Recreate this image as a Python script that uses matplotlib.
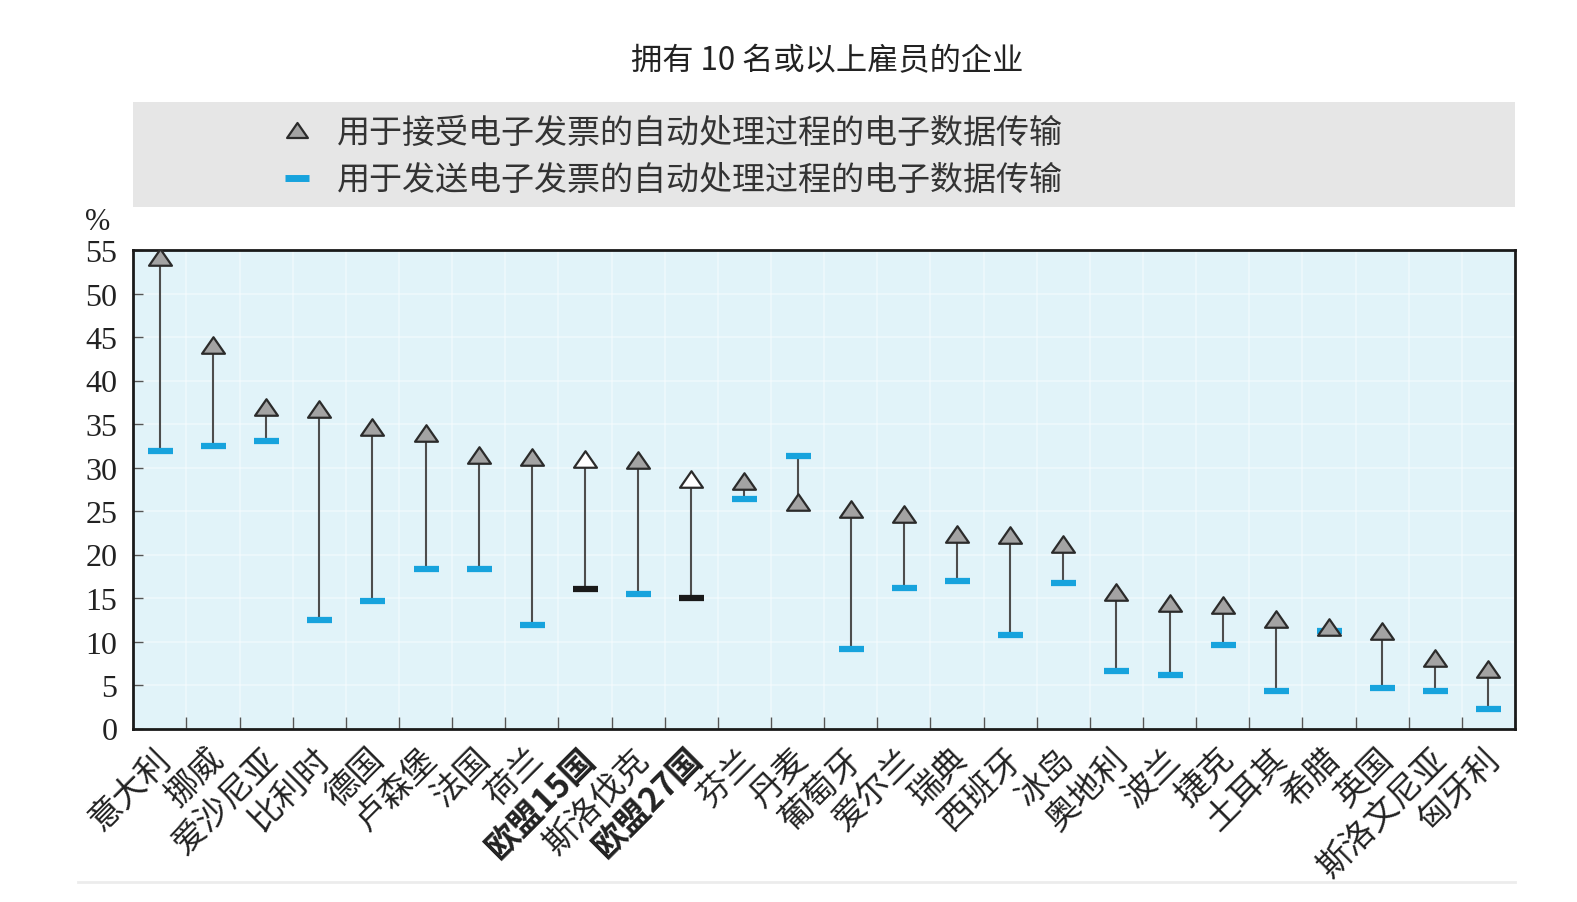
import numpy as np
import matplotlib
matplotlib.use("Agg")
import matplotlib.pyplot as plt
from matplotlib.path import Path
from matplotlib.patches import Rectangle
from matplotlib.lines import Line2D
from matplotlib.transforms import ScaledTranslation

plt.rcParams['font.family'] = ['Noto Sans CJK SC', 'DejaVu Sans']

# Data (%)
countries = ['意大利', '挪威', '爱沙尼亚', '比利时', '德国', '卢森堡', '法国', '荷兰',
             '欧盟15国', '斯洛伐克', '欧盟27国', '芬兰', '丹麦', '葡萄牙', '爱尔兰',
             '瑞典', '西班牙', '冰岛', '奥地利', '波兰', '捷克', '土耳其', '希腊',
             '英国', '斯洛文尼亚', '匈牙利']
receive = [54.2, 44.1, 37.0, 36.7, 34.6, 34.0, 31.4, 31.2, 31.0, 30.9, 28.7, 28.4, 26.0,
           25.2, 24.6, 22.3, 22.2, 21.2, 15.7, 14.4, 14.2, 12.6, 11.7, 11.2, 8.1, 6.8]
send = [31.9, 32.5, 33.0, 12.5, 14.6, 18.3, 18.3, 11.9, 16.0, 15.5, 15.0, 26.4, 31.3,
        9.1, 16.1, 17.0, 10.8, 16.7, 6.6, 6.2, 9.6, 4.3, 11.2, 4.7, 4.3, 2.2]
eu_groups = ['欧盟15国', '欧盟27国']

title = '拥有 10 名或以上雇员的企业'
label_receive = '用于接受电子发票的自动处理过程的电子数据传输'
label_send = '用于发送电子发票的自动处理过程的电子数据传输'

# Styles
blue = '#17a3dd'
tri_fill = '#a3a3a3'
tri_edge = '#2b2b2b'
stem_col = '#4d4d4d'
tri = Path([(-1, -0.72), (1, -0.72), (0, 0.72), (-1, -0.72)],
           [Path.MOVETO, Path.LINETO, Path.LINETO, Path.CLOSEPOLY])

W, H = 1577, 903
fig = plt.figure(figsize=(W / 100, H / 100), dpi=100)
ax_l, ax_r, ax_b, ax_t = 133.3 / W, 1515 / W, 1 - 729.5 / H, 1 - 251 / H
ax = fig.add_axes([ax_l, ax_b, ax_r - ax_l, ax_t - ax_b])
ax.set_facecolor('#e1f3f9')

x = np.arange(len(countries))
is_eu = np.array([c in eu_groups for c in countries])

ax.vlines(x, send, receive, color=stem_col, lw=1.5, zorder=2)
for xi, r, s, eu in zip(x, receive, send, is_eu):
    ax.plot(xi, s, marker='_', ms=18, mew=4.5,
            color='#1a1a1a' if eu else blue, zorder=3)
    ax.plot(xi, r, marker=tri, ms=16.5, mew=1.6, mec=tri_edge,
            mfc='white' if eu else tri_fill, ls='none', zorder=4)

ax.set_xlim(-0.5, len(countries) - 0.5)
ax.set_ylim(0, 55)

# grid: faint white lines
ax.set_yticks(np.arange(0, 56, 5))
ax.set_xticks(x + 0.5, minor=True)
ax.grid(True, which='major', axis='y', color='white', lw=1.5, alpha=0.35, zorder=0)
ax.grid(True, which='minor', axis='x', color='white', lw=1.5, alpha=0.35, zorder=0)
ax.set_axisbelow(True)

ax.set_yticklabels([str(v) for v in range(0, 56, 5)],
                   family='Liberation Serif', fontsize=23, color='#222')
ax.tick_params(axis='y', direction='in', length=7, width=1, color='#555', pad=11.5)
ax.tick_params(axis='x', which='minor', direction='in', length=9, width=1, color='#555')
ax.tick_params(axis='x', which='major', length=0, pad=17.6)

ax.set_xticks(x)
ax.set_xticklabels(countries, fontsize=24, color='#222')
offset = ScaledTranslation(6 / 100, 0, fig.dpi_scale_trans)
for lab, eu in zip(ax.get_xticklabels(), is_eu):
    lab.set_rotation(45)
    lab.set_ha('right')
    lab.set_va('center')
    lab.set_rotation_mode('anchor')
    lab.set_transform(lab.get_transform() + offset)
    if eu:
        lab.set_fontweight('bold')

for sp in ax.spines.values():
    sp.set_color('#1a1a1a')
    sp.set_linewidth(2)

fig.text(98 / W, 1 - 222 / H, '%', family='Liberation Serif', fontsize=22,
         ha='center', va='center', color='#222')

# title
fig.text(827 / W, 1 - 61 / H, title, fontsize=22.5, ha='center', va='center', color='#222')

# legend box
fig.patches.append(Rectangle((ax_l, 1 - 208 / H), ax_r - ax_l, 105.5 / H,
                             transform=fig.transFigure, facecolor='#e6e6e6',
                             edgecolor='none', zorder=0))
handles = [Line2D([], [], marker=tri, ms=15, mew=1.6, mec=tri_edge, mfc=tri_fill, ls='none'),
           Line2D([], [], marker='_', ms=17, mew=5, color=blue, ls='none')]
fig.legend(handles, [label_receive, label_send], loc='center left',
           bbox_to_anchor=(261 / W, 1 - 157 / H), frameon=False, fontsize=23.8,
           handlelength=1.2, handletextpad=0.6, labelspacing=0.38, borderpad=0,
           labelcolor='#333')

# faint bottom separator
fig.add_artist(Line2D([78 / W, ax_r], [1 - 883 / H] * 2, transform=fig.transFigure,
                      color='#ececec', lw=2))

fig.savefig('out.png', dpi=100)
